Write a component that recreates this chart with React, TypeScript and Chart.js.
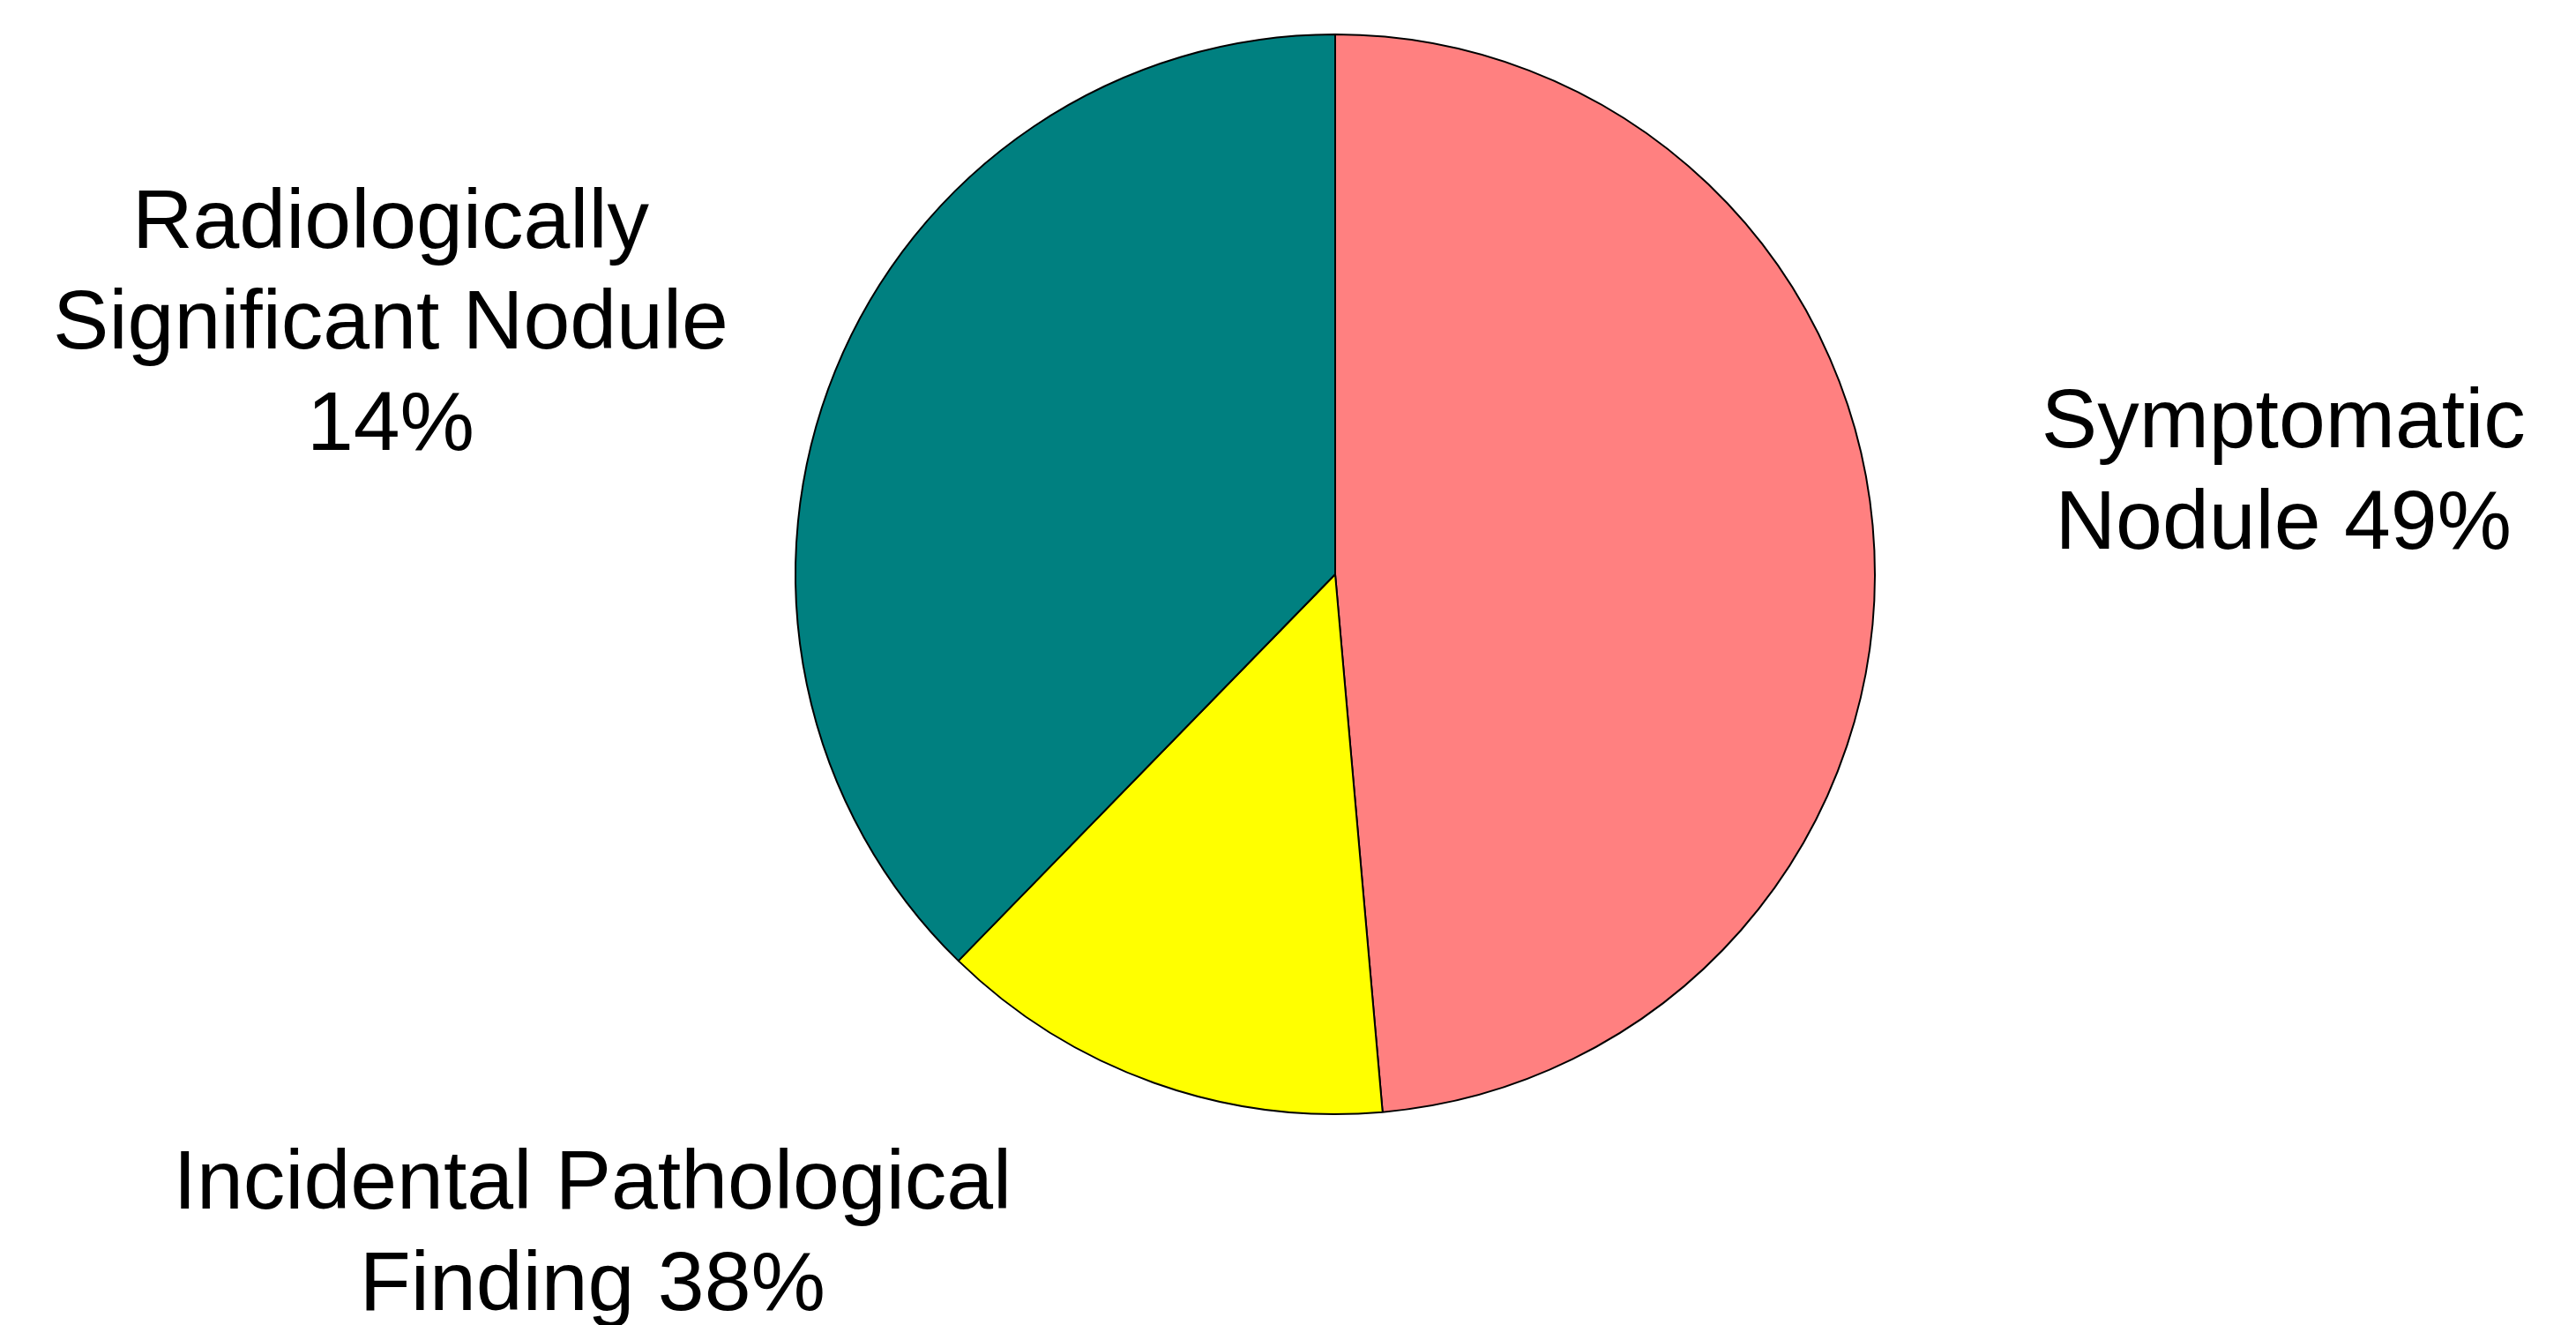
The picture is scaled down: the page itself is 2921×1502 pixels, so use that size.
import React, { useEffect, useRef } from "react";
import { Chart, registerables } from "chart.js";

Chart.register(...registerables);

// ---- data (clockwise from 12 o'clock) ----
const categories = ["Symptomatic Nodule", "Incidental Pathological Finding", "Radiologically Significant Nodule"];
const sliceValues = [48.6, 13.7, 37.7];
const sliceColors = ["#FF8080", "#FFFF00", "#008080"];

// label texts as printed on the original chart
const labelLines = [
  ["Symptomatic", "Nodule 49%"],
  ["Incidental Pathological", "Finding 38%"],
  ["Radiologically", "Significant Nodule", "14%"],
];
// label anchors in units of pie radius, relative to pie centre (x centre, first baseline)
const labelAnchors = [
  [1.757, -0.235],
  [-1.376, 1.175],
  [-1.75, -0.605],
];

const W = 2921;
const H = 1502;

const labelPlugin = {
  id: "outerLabels",
  afterDraw(chart: any) {
    const meta = chart.getDatasetMeta(0);
    const arc = meta.data[0];
    if (!arc) return;
    const cx = arc.x;
    const cy = arc.y;
    const r = arc.outerRadius;
    const ctx = chart.ctx;
    ctx.save();
    ctx.fillStyle = "#000";
    ctx.font = '95px "Liberation Sans", Arial, sans-serif';
    ctx.textAlign = "center";
    ctx.textBaseline = "alphabetic";
    const lh = 114.5;
    labelLines.forEach((lines, i) => {
      const [ax, ay] = labelAnchors[i];
      const x = cx + ax * r;
      const y0 = cy + ay * r;
      lines.forEach((t, j) => ctx.fillText(t, x, y0 + j * lh));
    });
    ctx.restore();
  },
};

export default function App() {
  const ref = useRef<HTMLCanvasElement | null>(null);
  useEffect(() => {
    if (!ref.current) return;
    const chart = new Chart(ref.current, {
      type: "pie",
      data: {
        labels: categories,
        datasets: [
          {
            data: sliceValues,
            backgroundColor: sliceColors,
            borderColor: "#000000",
            borderWidth: 2,
          },
        ],
      },
      options: {
        responsive: false,
        animation: false,
        layout: { padding: { left: 900, right: 793, top: 38, bottom: 238 } },
        plugins: {
          legend: { display: false },
          tooltip: { enabled: false },
        },
      },
      plugins: [labelPlugin],
    });
    return () => chart.destroy();
  }, []);
  return (
    <div style={{ position: "fixed", left: 0, top: 0, width: W, height: H, background: "#fff" }}>
      <canvas ref={ref} width={W} height={H} style={{ display: "block" }} />
    </div>
  );
}
